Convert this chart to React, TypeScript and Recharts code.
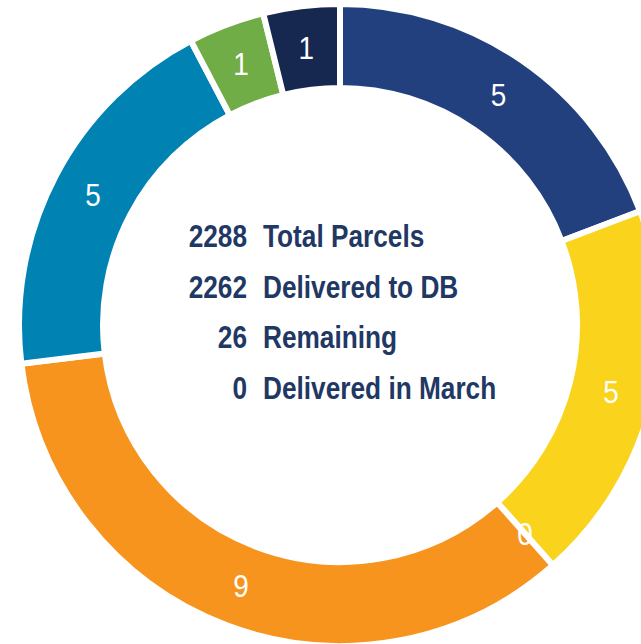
import { PieChart, Pie, Cell } from 'recharts';

// Remaining parcels by group (total 26)
const segmentNames = ['A', 'B', 'C', 'D', 'E', 'F', 'G'];
const segmentValues = [5, 5, 0, 9, 5, 1, 1];
const segmentColors = ['#23407e', '#f9d31c', '#f9d31c', '#f7941e', '#0083b3', '#71ad47', '#16284f'];

// Summary figures in the middle
const summaryNumbers = ['2288', '2262', '26', '0'];
const summaryLabels = ['Total Parcels', 'Delivered to DB', 'Remaining', 'Delivered in March'];

const RAD = Math.PI / 180;
const FONT = '"Liberation Sans", Arial, sans-serif';

const chartData = segmentNames.map((name, i) => ({ name, value: segmentValues[i] }));

const renderLabel = (props: any) => {
  const { cx, cy, midAngle, innerRadius, outerRadius, value } = props;
  const r = (innerRadius + outerRadius) / 2;
  const x = cx + r * Math.cos(-midAngle * RAD);
  const y = cy + r * Math.sin(-midAngle * RAD);
  return (
    <text
      transform={`translate(${x},${y}) scale(0.9,1)`}
      fill="#ffffff"
      textAnchor="middle"
      dominantBaseline="central"
      fontSize={31}
      fontFamily={FONT}
    >
      {value}
    </text>
  );
};

export default function App() {
  return (
    <div style={{ position: 'absolute', left: 0, top: 0, width: 641, height: 644, background: '#fff', overflow: 'hidden' }}>
      <PieChart width={641} height={644} margin={{ top: 0, right: 0, bottom: 0, left: 0 }}>
        <Pie
          data={chartData}
          dataKey="value"
          cx={340}
          cy={325}
          innerRadius={237}
          outerRadius={321}
          startAngle={90}
          endAngle={-270}
          stroke="#ffffff"
          strokeWidth={6}
          labelLine={false}
          label={renderLabel}
          isAnimationActive={false}
        >
          {chartData.map((entry, index) => (
            <Cell key={`cell-${index}`} fill={segmentColors[index]} />
          ))}
        </Pie>
      </PieChart>

      {/* Summary in the centre */}
      <svg width={641} height={644} style={{ position: 'absolute', left: 0, top: 0, pointerEvents: 'none' }}>
        {summaryNumbers.map((num, i) => (
          <g key={i} fontFamily={FONT} fontWeight="bold" fontSize={32} fill="#1f3864">
            <text transform={`translate(247,${247 + i * 50.7}) scale(0.82,1)`} textAnchor="end">{num}</text>
            <text transform={`translate(263,${247 + i * 50.7}) scale(0.82,1)`} textAnchor="start">{summaryLabels[i]}</text>
          </g>
        ))}
      </svg>
    </div>
  );
}
